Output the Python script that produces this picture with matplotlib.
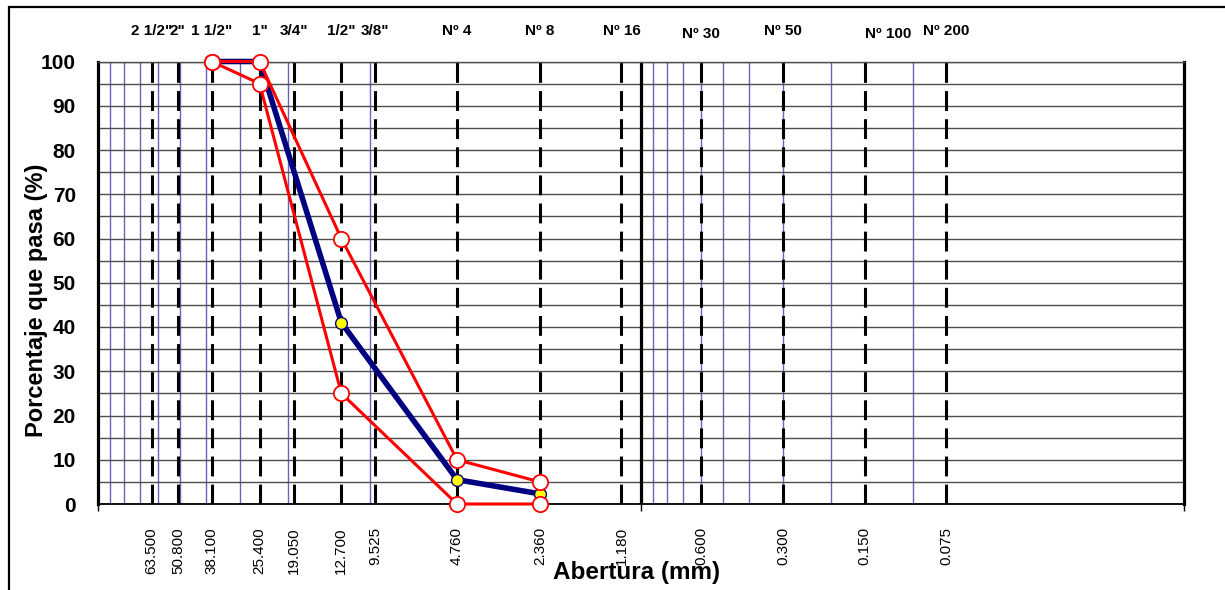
import numpy as np
import matplotlib
matplotlib.use('Agg')
import matplotlib.pyplot as plt
from matplotlib.patches import Rectangle

plt.rcParams['font.family'] = ['Liberation Sans', 'DejaVu Sans']

#sieve openings and names
sieve_names = ['2 1/2"', '2"', '1 1/2"', '1"', '3/4"', '1/2"', '3/8"',
               'Nº 4', 'Nº 8', 'Nº 16', 'Nº 30', 'Nº 50', 'Nº 100', 'Nº 200']
sieve_mm = [63.5, 50.8, 38.1, 25.4, 19.05, 12.7, 9.525,
            4.76, 2.36, 1.18, 0.6, 0.3, 0.15, 0.075]
sieve_txt = ['63.500', '50.800', '38.100', '25.400', '19.050', '12.700', '9.525',
             '4.760', '2.360', '1.180', '0.600', '0.300', '0.150', '0.075']

#grading curve and limits
size_mm = [38.1, 25.4, 12.7, 4.76, 2.36]
pasa = [100, 100, 41, 5.5, 2.3]
lim_sup = [100, 100, 60, 10, 5]
lim_inf = [100, 95, 25, 0, 0]

#thin grid lines on the log axis
minor_x = [90, 80, 70, 60, 50, 40, 30, 20, 10,
           0.9, 0.8, 0.7, 0.6, 0.5, 0.4, 0.3, 0.2, 0.1]

W, H = 1225, 590
fig = plt.figure(figsize=(W/100, H/100), dpi=100)
ax = fig.add_axes([98/W, 1-504/H, (1184-98)/W, (504-61.5)/H])

ax.set_xscale('log')
ax.set_xlim(100, 0.01)
ax.set_ylim(0, 100)

#grid
ax.set_yticks(np.arange(0, 101, 10))
ax.set_yticks(np.arange(0, 101, 5), minor=True)
ax.grid(axis='y', which='both', color='#4d4d4d', lw=1.0, zorder=1)
for v in minor_x:
    ax.axvline(v, color='#6464b8', lw=1.0, zorder=1)
ax.axvline(1, color='black', lw=2.3, zorder=2)

#sieve lines
for d in sieve_mm:
    ax.axvline(d, color='black', lw=2.2, dashes=(6.5, 2.7), zorder=2)

#curves
ax.plot(size_mm, pasa, color='#000080', lw=4, marker='o', ms=8.5,
        mfc='#ffff00', mec='#000080', mew=1, zorder=4, clip_on=False)
ax.plot(size_mm, lim_sup, color='red', lw=2.2, marker='o', ms=11,
        mfc='white', mec='red', mew=1.3, zorder=5, clip_on=False)
ax.plot(size_mm, lim_inf, color='red', lw=2.2, marker='o', ms=11,
        mfc='white', mec='red', mew=1.3, zorder=5, clip_on=False)

#axes look
for s in ['left', 'right']:
    ax.spines[s].set_linewidth(2.3)
ax.spines['bottom'].set_linewidth(1.3)
ax.spines['top'].set_linewidth(1.0)
ax.spines['top'].set_color('#4d4d4d')
ax.set_xticks([100, 1, 0.01])
ax.set_xticks([], minor=True)
ax.set_xticklabels([])
ax.tick_params(axis='x', which='major', length=5, width=1, direction='out')
ax.tick_params(axis='y', which='both', length=0, pad=16)
ax.set_yticklabels([str(v) for v in range(0, 101, 10)], fontsize=15, fontweight='bold')

#x axis title (drawn first so the size labels sit over it)
fig.text(637/W, 1-572/H, 'Abertura (mm)', fontsize=17.5, fontweight='bold',
         ha='center', va='center')
fig.text(37/W, 1-300/H, 'Porcentaje que pasa (%)', fontsize=17, fontweight='bold',
         ha='center', va='center', rotation=90)

trans = ax.get_xaxis_transform()
for d, name, txt in zip(sieve_mm, sieve_names, sieve_txt):
    ax.text(d, -0.052, txt, transform=trans, rotation=90, ha='center', va='top',
            fontsize=11, clip_on=False)
    if name == 'Nº 100':
        ax.text(d, 1.062, name, transform=trans, ha='left', va='center',
                fontsize=11, fontweight='bold')
    elif name == 'Nº 30':
        ax.text(d, 1.062, name, transform=trans, ha='center', va='center',
                fontsize=11, fontweight='bold')
    else:
        ax.text(d, 1.07, name, transform=trans, ha='center', va='center',
                fontsize=11, fontweight='bold')

#outer frame of the chart
fig.patches.append(Rectangle((8.5/W, -0.02), 1.0, 1.02-6.5/H, transform=fig.transFigure,
                             fill=False, ec='black', lw=1.6))

fig.savefig('out.png', dpi=100)
